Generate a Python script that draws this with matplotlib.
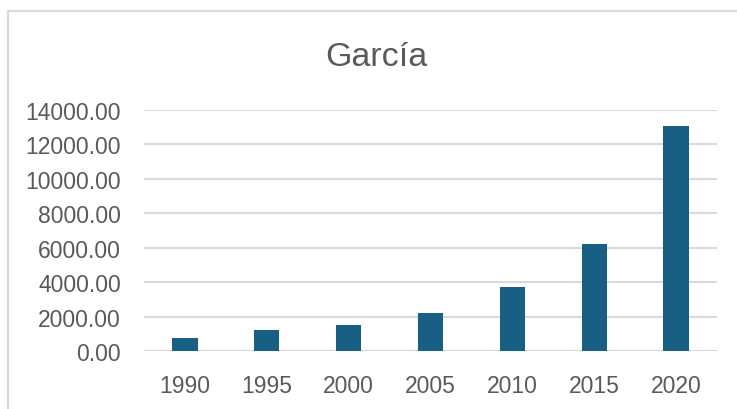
import matplotlib.pyplot as plt
from matplotlib.ticker import FormatStrFormatter
from matplotlib.lines import Line2D

# data
years = ['1990', '1995', '2000', '2005', '2010', '2015', '2020']
values = [800, 1250, 1500, 2200, 3750, 6250, 13050]

bar_color = '#176083'
text_color = '#595959'
grid_color = '#D9D9D9'

plt.rcParams['font.family'] = ['Liberation Sans', 'DejaVu Sans']

W, H = 737, 410
fig = plt.figure(figsize=(W / 100, H / 100), dpi=100)
# plot area in pixels: x 144..717, y 111..352
ax = fig.add_axes([144 / W, 1 - 352.3 / H, (717 - 144) / W, (352.3 - 111) / H])

x = range(len(years))
ax.bar(x, values, width=0.31, color=bar_color, zorder=3)

ax.set_xlim(-0.5, len(years) - 0.5)
ax.set_ylim(0, 14000)
ax.set_yticks(range(0, 14001, 2000))
ax.yaxis.set_major_formatter(FormatStrFormatter('%.2f'))
ax.set_xticks(list(x))
ax.set_xticklabels(years)

ax.grid(axis='y', color=grid_color, linewidth=1.5, zorder=0)
for s in ax.spines.values():
    s.set_visible(False)
ax.tick_params(axis='both', length=0, labelsize=16.5, colors=text_color)
ax.tick_params(axis='y', pad=16.5)
ax.tick_params(axis='x', pad=16)

# chart area border (only left and top visible)
fig.add_artist(Line2D([8 / W, 8 / W], [0, 1 - 12 / H], color=grid_color, linewidth=1.5))
fig.add_artist(Line2D([8 / W, 1], [1 - 12 / H, 1 - 12 / H], color=grid_color, linewidth=1.5))

fig.text(376 / W, 1 - 57 / H, 'García', ha='center', va='center', fontsize=24.5, color=text_color)

fig.savefig('out.png', dpi=100)
